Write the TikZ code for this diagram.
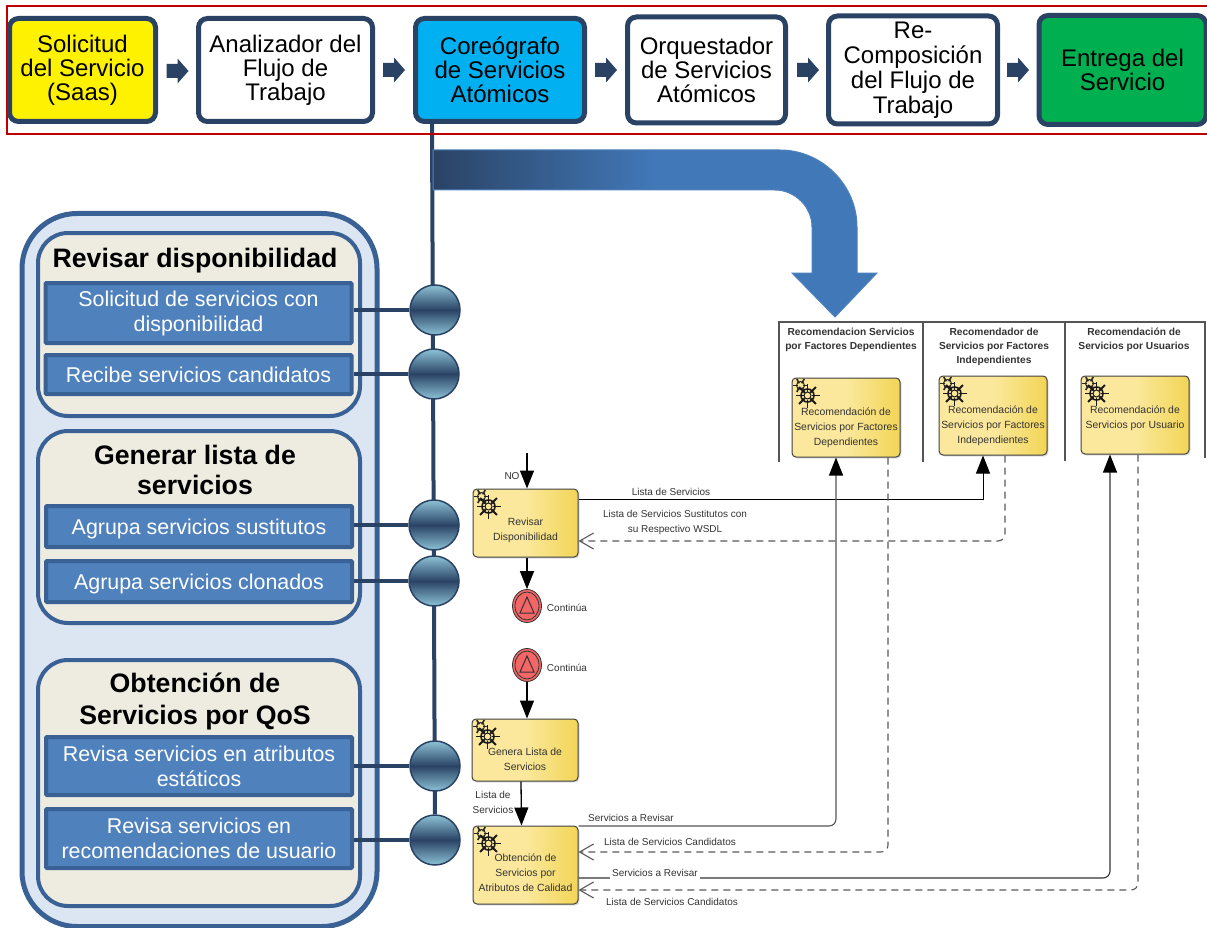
\documentclass[tikz,border=0pt]{standalone}
\usepackage{fontspec}
\setmainfont{Liberation Sans}
\usetikzlibrary{arrows.meta,shapes.geometric,shadows}
\pgfdeclarelayer{background}
\pgfdeclarelayer{foreground}
\pgfsetlayers{background,main,foreground}
\definecolor{navy}{HTML}{2A4365}
\definecolor{steel}{HTML}{3A6195}
\definecolor{azul}{HTML}{4F81BD}
\definecolor{azulf}{HTML}{4178B8}
\definecolor{panel}{HTML}{DCE6F2}
\definecolor{crema}{HTML}{EEECE1}
\definecolor{cielo}{HTML}{00B0F0}
\definecolor{verde}{HTML}{00B050}
\definecolor{marco}{HTML}{C00000}
\definecolor{tareaA}{HTML}{FBE89C}
\definecolor{tareaB}{HTML}{F2D556}
\definecolor{rojo}{HTML}{F26666}
\definecolor{bola}{HTML}{8CC2D6}
\definecolor{gris}{HTML}{555555}
\tikzset{
  baja/.style={execute at begin node={\rule{0pt}{#1}}},
  etapa/.style={draw=navy,line width=5pt,rounded corners=9pt,minimum height=103pt,inner sep=0pt,align=center,font=\fontsize{24}{24}\selectfont},
  grupo/.style={draw=steel,line width=4pt,fill=crema,rounded corners=30pt,minimum width=322pt,inner sep=0pt},
  titulo/.style={align=center,font=\bfseries\fontsize{26.7}{30}\selectfont},
  accion/.style={draw=steel,line width=4pt,rounded corners=1pt,fill=azul,text=white,minimum width=306pt,inner sep=0pt,align=center,font=\fontsize{21.4}{25}\selectfont},
  bolita/.style={circle,draw=navy,line width=1.5pt,minimum size=50pt,inner sep=0pt,top color=bola,bottom color=bola,middle color=navy},
  tarea/.style={draw=black!75,line width=1pt,rounded corners=4pt,left color=tareaA,right color=tareaB,middle color=tareaA,drop shadow={opacity=.25,shadow xshift=1.5pt,shadow yshift=-1.5pt},inner sep=0pt,align=center,text=black!80,font=\fontsize{10.4}{15}\selectfont},
  etiqueta/.style={align=center,text=black!80,font=\fontsize{10}{15}\selectfont},
  carril/.style={align=center,text=black!80,font=\bfseries\fontsize{10.2}{14}\selectfont},
  evento/.style={ellipse,draw=black!80,line width=.8pt,fill=rojo,minimum width=29pt,minimum height=33pt,inner sep=0pt},
  enlace/.style={draw=navy,line width=4pt},
  flujo/.style={line width=1.3pt,-{Triangle[length=18pt,width=14pt,color=black]}},
  mensaje/.style={draw=black!80,line width=1.1pt,rounded corners=7pt,-{Triangle[length=18pt,width=14pt,color=black]}},
  respuesta/.style={draw=black!65,line width=1.1pt,dash pattern=on 7pt off 5pt,rounded corners=7pt,-{Straight Barb[length=14pt,width=16pt]}},
  bloque/.pic={
    \fill[navy] (-11,-7) -- (0,-7) -- (0,-12.5) -- (11,0) -- (0,12.5) -- (0,7) -- (-11,7) -- cycle;
  },
  alerta/.pic={
    \draw[black!80,line width=.8pt] (0,0) ellipse (12 and 14);
    \draw[black!80,line width=1pt] (-7,7) -- (7,7) -- (0,-9) -- cycle;
  },
  engrane/.pic={
    \foreach \a in {0,60,...,300} \draw[black!85,line width=1.6pt] (-5,-7) ++(\a:2.5) -- ++(\a:5);
    \draw[black!85,line width=1pt] (-5,-7) circle (4);
    \foreach \a in {0,45,...,315} \draw[black!90,line width=1.8pt] (2,3) ++(\a:4) -- ++(\a:8);
    \draw[black!90,line width=1.6pt] (2,3) circle (6.5);
    \draw[black!90,line width=1pt,fill=tareaA] (2,3) circle (3.5);
  }
}
\begin{document}
\begin{tikzpicture}[x=1pt,y=-1pt]
\useasboundingbox (0,0) rectangle (1207,928);
% marco superior
\draw[marco,line width=2.7pt] (7,6) rectangle (1215,134);
\node[etapa,fill=yellow,minimum width=146pt,baja=22.5pt] (sol) at (82.5,70) {Solicitud\\del Servicio\\(Saas)};
\node[etapa,fill=white,minimum width=174pt,baja=22.5pt] (ana) at (285.5,70) {Analizador del\\Flujo de\\Trabajo};
\node[etapa,fill=cielo,minimum width=169pt] (cor) at (500,70) {Coreógrafo\\de Servicios\\Atómicos};
\node[etapa,fill=white,minimum width=158pt,minimum height=106pt] (orq) at (706.5,70) {Orquestador\\de Servicios\\Atómicos};
\node[etapa,fill=white,minimum width=169pt,minimum height=108pt,baja=22.5pt] (rec) at (913,70) {Re-\\[1pt]Composición\\[1pt]del Flujo de\\[1pt]Trabajo};
\node[etapa,fill=verde,minimum width=167pt,minimum height=109pt] (ent) at (1122.5,70) {Entrega del\\Servicio};
\pic (f1) at (177.5,71) {bloque};
\pic (f2) at (394,70) {bloque};
\pic (f3) at (606,70) {bloque};
\pic (f4) at (808,70) {bloque};
\pic (f5) at (1018,70) {bloque};
% flecha curva
\shade[draw=azul,line width=1pt,left color=navy,right color=azulf,middle color=azulf] (433,150) -- (780,150) .. controls (822,150) and (857,185) .. (857,227) -- (857,273) -- (877,273) -- (835,317) -- (792,273) -- (812,273) -- (812,227) .. controls (812,207) and (795,190) .. (775,190) -- (433,190) -- cycle;
% panel izquierdo
\begin{pgfonlayer}{background}
\node[draw=steel,line width=5pt,fill=panel,rounded corners=55pt,minimum width=355pt,minimum height=713pt] (pan) at (199.5,570) {};
\node[grupo,minimum height=183pt] (g1) at (199,324.5) {};
\node[grupo,minimum height=192pt] (g2) at (199,527) {};
\node[grupo,minimum height=246pt] (g3) at (199,783) {};
\end{pgfonlayer}
\node[titulo] (t1) at (195,261) {Revisar disponibilidad};
\node[titulo] (t2) at (195,470) {Generar lista de\\servicios};
\node[titulo] (t3) at (195,701) {Obtención de\\[2pt]Servicios por QoS};
\node[accion,minimum height=60pt,baja=24pt] (a1) at (198.5,313) {Solicitud de servicios con\\disponibilidad};
\node[accion,minimum height=39pt] (a2) at (198.5,374.5) {Recibe servicios candidatos};
\node[accion,minimum height=41pt,baja=21pt] (a3) at (199,526.5) {Agrupa servicios sustitutos};
\node[accion,minimum height=41pt,baja=21pt] (a4) at (199,581.5) {Agrupa servicios clonados};
\node[accion,minimum height=58pt] (a5) at (199,766) {Revisa servicios en atributos\\estáticos};
\node[accion,minimum height=59pt] (a6) at (199,838.5) {Revisa servicios en\\recomendaciones de usuario};
\node[bolita] (b1) at (435,310) {};
\node[bolita] (b2) at (434,374) {};
\node[bolita] (b3) at (434,525) {};
\node[bolita] (b4) at (434,581) {};
\node[bolita] (b5) at (435,766) {};
\node[bolita] (b6) at (435,840) {};
\begin{pgfonlayer}{background}
\draw[enlace] ([xshift=-68pt]cor.south) -- (b6);
\foreach \i in {1,...,6} \draw[enlace] (a\i.east |- b\i) -- (b\i);
\end{pgfonlayer}
% carriles
\draw[gris,line width=1.2pt] (779,462) -- (779,322) -- (1205,322) -- (1205,458);
\draw[gris,line width=1.2pt] (923,322) -- (923,462);
\draw[gris,line width=1.2pt] (1065,322) -- (1065,461);
\node[carril] (c1) at (851,340) {Recomendacion Servicios\\por Factores Dependientes};
\node[carril] (c2) at (994,347) {Recomendador de\\Servicios por Factores\\Independientes};
\node[carril] (c3) at (1134,340) {Recomendación de\\Servicios por Usuarios};
\node[tarea,minimum width=108pt,minimum height=79pt] (rt1) at (846,417.5) {\\[14pt]Recomendación de\\Servicios por Factores\\Dependientes};
\node[tarea,minimum width=108pt,minimum height=79pt] (rt2) at (993,415.5) {\\[14pt]Recomendación de\\Servicios por Factores\\Independientes};
\node[tarea,minimum width=108pt,minimum height=78pt] (rt3) at (1135,415) {\\[12pt]Recomendación de\\Servicios por Usuario\\ };
\node[tarea,minimum width=105pt,minimum height=68pt] (rev) at (525.5,523) {\\[8pt]Revisar\\Disponibilidad};
\node[tarea,minimum width=106pt,minimum height=62pt] (gen) at (525,750) {\\[11pt]Genera Lista de\\Servicios};
\node[tarea,minimum width=105pt,minimum height=78pt] (obt) at (525.5,865) {\\[8pt]Obtención de\\Servicios por\\Atributos de Calidad};
\foreach \t in {rev,gen,obt,rt1,rt2,rt3} \pic at ([xshift=14pt,yshift=-15pt]\t.north west) {engrane};
% eventos
\node[evento] (e1) at (527,606) {};
\node[evento] (e2) at (527,665) {};
\pic at (e1.center) {alerta};
\pic at (e2.center) {alerta};
\node[etiqueta] (l1) at (567,608) {Continúa};
\node[etiqueta] (l2) at (567,668) {Continúa};
\node[etiqueta] (l3) at (512,476) {NO};
\coordinate (ini) at (527,453);
\node[etiqueta] (l4) at (493,802) {Lista de\\Servicios};
\node[etiqueta] (l5) at (671,492) {Lista de Servicios};
\node[etiqueta] (l6) at (675,522) {Lista de Servicios Sustitutos con\\su Respectivo WSDL};
\node[etiqueta] (l7) at (631,818) {Servicios a Revisar};
\node[etiqueta] (l8) at (670,842) {Lista de Servicios Candidatos};
\node[etiqueta] (l10) at (672,902) {Lista de Servicios Candidatos};
% flujos
\begin{pgfonlayer}{foreground}
\draw[flujo] (ini) -- (ini |- rev.north);
\draw[flujo] (e1 |- rev.south) -- (e1);
\draw[flujo] (e2) -- (gen.north -| e2);
\draw[flujo] ([xshift=-4pt]gen.south) -- ([xshift=-4pt]obt.north);
\draw[mensaje,sharp corners,draw=black,line width=.9pt] ([yshift=24pt]rev.east) -| ([xshift=-10pt]rt2.south);
\draw[respuesta] ([xshift=12pt]rt2.south) |- ([yshift=-18pt]rev.east);
\draw[mensaje,draw=gris] ([yshift=39pt]obt.east) -| ([xshift=-10pt]rt1.south);
\draw[respuesta] ([xshift=42pt]rt1.south) |- ([yshift=13pt]obt.east);
\draw[mensaje] ([yshift=-13pt]obt.east) -| ([xshift=-25pt]rt3.south);
\draw[respuesta] ([xshift=3pt]rt3.south) |- ([yshift=-25pt]obt.east);
\node[etiqueta,fill=white,inner sep=2pt] (l9) at (655,873) {Servicios a Revisar};
\end{pgfonlayer}
\end{tikzpicture}
\end{document}
